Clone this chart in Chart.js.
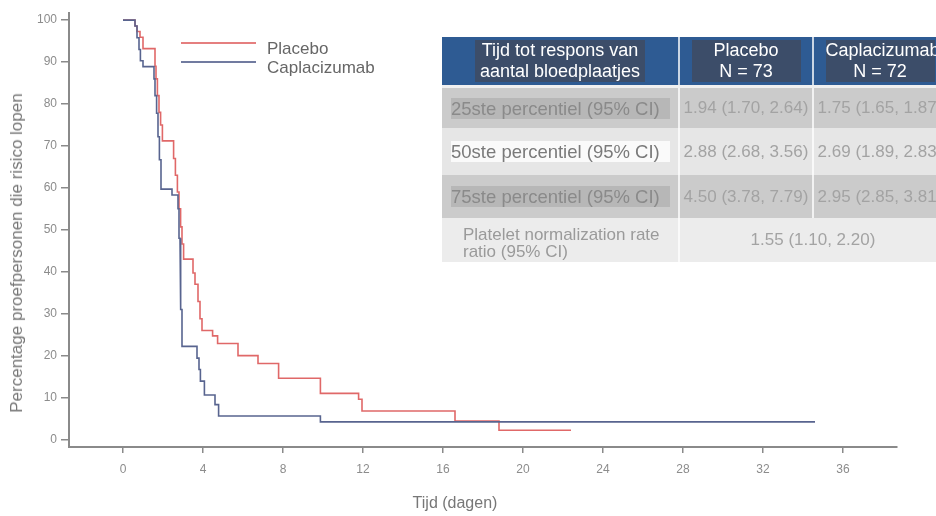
<!DOCTYPE html>
<html>
<head>
<meta charset="utf-8">
<script src="https://cdn.jsdelivr.net/npm/chart.js@4.4.0/dist/chart.umd.min.js"></script>
<style>
  html, body { margin: 0; padding: 0; background: #fff; }
  #wrap { position: relative; width: 936px; height: 516px; overflow: hidden; font-family: "Liberation Sans", Arial, sans-serif; }
  #chart { position: absolute; left: 0; top: 0; }
  .ytitle { position: absolute; left: 17px; top: 253px; transform: translate(-50%, -50%) rotate(-90deg); white-space: nowrap; font-size: 17px; color: #777; }
  .xtitle { position: absolute; left: 455px; top: 503px; transform: translate(-50%, -50%); white-space: nowrap; font-size: 16px; color: #777; }
  .legend { position: absolute; left: 181px; top: 34px; }
  .legend div { position: relative; height: 19px; font-size: 17px; color: #666; }
  .legend span.ln { position: absolute; left: 0; top: 8px; width: 75px; height: 2px; }
  .legend span.tx { position: absolute; left: 86px; top: 5px; white-space: nowrap; }
  table { position: absolute; left: 442px; top: 37px; border-collapse: collapse; table-layout: fixed; width: 505px; }
  td { padding: 0; border-right: 2px solid rgba(255,255,255,0.75); text-align: center; white-space: nowrap; }
  tr.head td { height: 48px; background: #2e5b93; color: #fff; font-size: 18px; line-height: 21px; }
  .hbox { display: inline-block; background: #3c4d69; padding: 0 5px; }
  .hbox.w { width: 109px; padding: 0; }
  tr.gap td { height: 3px; background: #f0f0f0; border-right: none; }
  tr.dark td { background: #cbcbcb; }
  tr.light td { background: #e6e6e6; }
  tr.last td { background: #ececec; }
  td.lab { text-align: left; font-size: 18.5px; color: #808080; }
  .hl { display: block; margin-left: 9px; width: 219px; height: 21px; line-height: 21px; }
  tr.dark .hl { background: #b7b7b7; color: #8a8a8a; }
  tr.light .hl { background: #fafafa; color: #7a7a7a; }
  td.val { font-size: 17px; color: #a3a3a3; }
  td.note { text-align: left; padding-left: 21px; padding-top: 5px; font-size: 17px; line-height: 17px; color: #9a9a9a; }
</style>
</head>
<body>
<div id="wrap">
  <canvas id="chart" width="936" height="516"></canvas>
  <div class="ytitle">Percentage proefpersonen die risico lopen</div>
  <div class="xtitle">Tijd (dagen)</div>
  <div class="legend" id="legend"></div>
  <table>
    <colgroup><col style="width:237px"><col style="width:134px"><col style="width:134px"></colgroup>
    <tr class="head">
      <td><span class="hbox">Tijd tot respons van<br>aantal bloedplaatjes</span></td>
      <td><span class="hbox w">Placebo<br>N = 73</span></td>
      <td><span class="hbox w">Caplacizumab<br>N = 72</span></td>
    </tr>
    <tr class="gap"><td></td><td></td><td></td></tr>
    <tr class="dark" style="height:40px">
      <td class="lab"><span class="hl">25ste percentiel (95% CI)</span></td>
      <td class="val">1.94 (1.70, 2.64)</td>
      <td class="val">1.75 (1.65, 1.87)</td>
    </tr>
    <tr class="light" style="height:47px">
      <td class="lab"><span class="hl">50ste percentiel (95% CI)</span></td>
      <td class="val">2.88 (2.68, 3.56)</td>
      <td class="val">2.69 (1.89, 2.83)</td>
    </tr>
    <tr class="dark" style="height:43px">
      <td class="lab"><span class="hl">75ste percentiel (95% CI)</span></td>
      <td class="val">4.50 (3.78, 7.79)</td>
      <td class="val">2.95 (2.85, 3.81)</td>
    </tr>
    <tr class="last" style="height:44px">
      <td class="note">Platelet normalization rate<br>ratio (95% CI)</td>
      <td class="val" colspan="2">1.55 (1.10, 2.20)</td>
    </tr>
  </table>
</div>
<script>
// ticks
const xTicks = [0, 4, 8, 12, 16, 20, 24, 28, 32, 36];
const yTicks = [0, 10, 20, 30, 40, 50, 60, 70, 80, 90, 100];

// Placebo: tijd van elke stap (dagen) en percentage na de stap
const placeboDays = [0, 0.6, 0.7, 0.85, 1.0, 1.6, 1.65, 1.72, 1.8, 1.88, 1.97, 2.53, 2.62, 2.72, 2.8, 2.88, 2.95, 3.03, 3.5, 3.6, 3.75, 3.85, 3.95, 4.48, 4.73, 5.75, 6.75, 7.78, 9.87, 11.78, 11.95, 16.6, 18.8];
const placeboPct = [100, 98.6, 97.3, 95.9, 93.2, 89, 86, 82, 78, 75, 71.2, 67, 63, 59, 55, 50.7, 46.6, 43, 39.7, 37, 32.9, 28.8, 26, 24.7, 22.9, 20, 18.1, 14.6, 11, 9.6, 6.8, 4.4, 2.2];
const placeboEnd = 22.4;

// Caplacizumab
const caplaDays = [0, 0.6, 0.7, 0.8, 0.87, 1.0, 1.55, 1.6, 1.68, 1.75, 1.82, 1.9, 2.45, 2.75, 2.8, 2.85, 2.9, 2.95, 3.7, 3.8, 3.87, 4.07, 4.6, 4.78, 9.87];
const caplaPct = [100, 98.6, 95.8, 93, 90.3, 88.9, 86, 82, 77.8, 72.2, 66.7, 59.7, 58.3, 55, 48, 40, 31, 22.2, 19.4, 16.7, 13.9, 10.6, 8.3, 5.6, 4.2];
const caplaEnd = 34.6;

const seriesNames = ['Placebo', 'Caplacizumab'];
const seriesColors = ['#e06868', '#58648f'];

// trap-curve (Kaplan-Meier) uit de stappen
function toSteps(days, pct, end) {
    const pts = [];
    days.forEach((d, i) => {
        if (i > 0) pts.push({ x: d, y: pct[i - 1] });
        pts.push({ x: d, y: pct[i] });
    });
    pts.push({ x: end, y: pct[pct.length - 1] });
    return pts;
}

// legenda
const legend = document.getElementById('legend');
seriesNames.forEach((name, i) => {
    const row = document.createElement('div');
    row.innerHTML = '<span class="ln" style="background:' + seriesColors[i] + ';opacity:0.85"></span><span class="tx">' + name + '</span>';
    legend.appendChild(row);
});

const axisColor = '#8a8a8a';

new Chart(document.getElementById('chart'), {
    type: 'line',
    data: {
        datasets: [
            {
                label: seriesNames[0],
                data: toSteps(placeboDays, placeboPct, placeboEnd),
                borderColor: seriesColors[0],
                borderWidth: 1.6,
                pointRadius: 0,
                fill: false,
                order: 1
            },
            {
                label: seriesNames[1],
                data: toSteps(caplaDays, caplaPct, caplaEnd),
                borderColor: seriesColors[1],
                borderWidth: 1.6,
                pointRadius: 0,
                fill: false,
                order: 0
            }
        ]
    },
    options: {
        responsive: false,
        animation: false,
        layout: { padding: { top: 13, right: 39, left: 0, bottom: 0 } },
        plugins: { legend: { display: false }, tooltip: { enabled: false } },
        scales: {
            x: {
                type: 'linear',
                min: -2.7,
                max: 38.7,
                afterBuildTicks: scale => { scale.ticks = xTicks.map(v => ({ value: v })); },
                afterFit: scale => { scale.height = 69; },
                border: { color: axisColor, width: 2 },
                grid: { drawOnChartArea: false, drawTicks: true, tickLength: 6, tickColor: axisColor, lineWidth: 1.5 },
                ticks: { color: '#8c8c8c', font: { size: 12 }, padding: 9, maxRotation: 0 }
            },
            y: {
                type: 'linear',
                min: -1.8,
                max: 101.7,
                afterBuildTicks: scale => { scale.ticks = yTicks.map(v => ({ value: v })); },
                afterFit: scale => { scale.width = 69; },
                border: { color: axisColor, width: 2 },
                grid: { drawOnChartArea: false, drawTicks: true, tickLength: 8, tickColor: axisColor, lineWidth: 1.5 },
                ticks: { color: '#8c8c8c', font: { size: 12 }, padding: 4 }
            }
        }
    }
});
</script>
</body>
</html>
